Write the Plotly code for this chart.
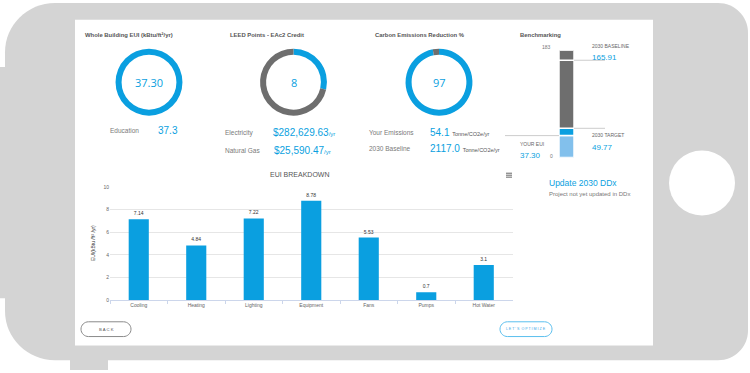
import plotly.graph_objects as go

W, H = 750, 373

# ---------------- data ----------------
eui_value = 37.30
eui_label = "37.30"
building_type = "Education"
building_eui = "37.3"

leed_points = 8
leed_remaining = 20

carbon_reduction = 97
carbon_rest = 3
your_emissions = "54.1"
baseline_emissions = "2117.0"

electricity_cost = "$282,629.63"
gas_cost = "$25,590.47"

bench_max = 183
bench_baseline = 165.91
bench_target = 49.77
bench_your = 37.30

categories = ["Cooling", "Heating", "Lighting", "Equipment", "Fans", "Pumps", "Hot Water"]
eui_breakdown = [7.14, 4.84, 7.22, 8.78, 5.53, 0.7, 3.1]
y_ticks = [0, 2, 4, 6, 8, 10]

BLUE = "#0a9fe0"
LBLUE = "#82c0ec"
DGRAY = "#6e6e6e"
FRAME = "#d4d4d4"
TXT = "#555555"
LBL = "#7a7a7a"
FONT = "Liberation Sans, Arial, sans-serif"


def px(x):
    return x / W


def py(y):
    return 1 - y / H


K = 0.5523


def rrect(x0, y0, x1, y1, rtl, rtr, rbr, rbl):
    def P(x, y):
        return f"{px(x):.5f},{py(y):.5f}"

    d = f"M {P(x0 + rtl, y0)} L {P(x1 - rtr, y0)} "
    d += f"C {P(x1 - rtr + K * rtr, y0)} {P(x1, y0 + rtr - K * rtr)} {P(x1, y0 + rtr)} "
    d += f"L {P(x1, y1 - rbr)} "
    d += f"C {P(x1, y1 - rbr + K * rbr)} {P(x1 - rbr + K * rbr, y1)} {P(x1 - rbr, y1)} "
    d += f"L {P(x0 + rbl, y1)} "
    d += f"C {P(x0 + rbl - K * rbl, y1)} {P(x0, y1 - rbl + K * rbl)} {P(x0, y1 - rbl)} "
    d += f"L {P(x0, y0 + rtl)} "
    d += f"C {P(x0, y0 + rtl - K * rtl)} {P(x0 + rtl - K * rtl, y0)} {P(x0 + rtl, y0)} Z"
    return d


shapes = []
# phone frame
shapes.append(dict(type="path", path=rrect(5, 0, 748, 363, 50, 30, 30, 50),
                   xref="paper", yref="paper", fillcolor=FRAME, line=dict(width=0), layer="below"))
shapes.append(dict(type="rect", xref="paper", yref="paper", x0=px(0), x1=px(8), y0=py(65), y1=py(300),
                   fillcolor=FRAME, line=dict(width=0), layer="below"))
shapes.append(dict(type="rect", xref="paper", yref="paper", x0=px(70), x1=px(108), y0=py(350), y1=py(373),
                   fillcolor=FRAME, line=dict(width=0), layer="below"))
# home button
shapes.append(dict(type="circle", xref="paper", yref="paper", x0=px(669), x1=px(735), y0=py(150), y1=py(216),
                   fillcolor="white", line=dict(width=0), layer="below"))
# screen
shapes.append(dict(type="rect", xref="paper", yref="paper", x0=px(75), x1=px(653), y0=py(348), y1=py(17),
                   fillcolor="white", line=dict(width=0), layer="below"))
# buttons
shapes.append(dict(type="path", path=rrect(81, 324, 131, 339, 7.5, 7.5, 7.5, 7.5), xref="paper", yref="paper",
                   fillcolor="white", line=dict(width=1, color="#8a8a8a")))
shapes.append(dict(type="path", path=rrect(500, 324, 552, 339, 7.5, 7.5, 7.5, 7.5), xref="paper", yref="paper",
                   fillcolor="white", line=dict(width=1, color="#5bbfee")))
# benchmark guide lines
shapes.append(dict(type="line", xref="paper", yref="y2", x0=px(574), x1=px(605), y0=bench_baseline, y1=bench_baseline,
                   line=dict(width=1, color="#cccccc")))
shapes.append(dict(type="line", xref="paper", yref="y2", x0=px(574), x1=px(605), y0=bench_target, y1=bench_target,
                   line=dict(width=1, color="#cccccc")))
shapes.append(dict(type="line", xref="paper", yref="y2", x0=px(505), x1=px(559), y0=bench_your, y1=bench_your,
                   line=dict(width=1, color="#cccccc")))
# hamburger menu
for yy in (173, 175, 177):
    shapes.append(dict(type="line", xref="paper", yref="paper", x0=px(506), x1=px(512), y0=py(yy), y1=py(yy),
                       line=dict(width=1, color="#666666")))

fig = go.Figure()


def donut(values, colors, cx, cy, r=34):
    fig.add_trace(go.Pie(values=values, marker=dict(colors=colors, line=dict(width=0)),
                         hole=0.82, sort=False, direction="clockwise", rotation=0,
                         textinfo="none", hoverinfo="skip", showlegend=False,
                         domain=dict(x=[px(cx - r), px(cx + r)], y=[py(cy + r), py(cy - r)])))


donut([eui_value], [BLUE], 149, 80.5)
donut([leed_points, leed_remaining], [BLUE, DGRAY], 293.5, 80.5)
donut([carbon_reduction, carbon_rest], [BLUE, DGRAY], 439, 80.5)

# EUI breakdown bar chart
fig.add_trace(go.Bar(x=categories, y=eui_breakdown, marker=dict(color=BLUE, line=dict(width=0)),
                     text=[f"{v}" for v in eui_breakdown], textposition="outside",
                     textfont=dict(size=5, color="#333333", family=FONT),
                     cliponaxis=False, width=0.35, hoverinfo="skip", showlegend=False,
                     xaxis="x", yaxis="y"))

# Benchmark stacked bar
bench_bounds = [0, bench_your, bench_target, bench_baseline, bench_max]
bench_colors = [LBLUE, BLUE, DGRAY, DGRAY]
for i in range(4):
    fig.add_trace(go.Bar(x=[0], y=[bench_bounds[i + 1] - bench_bounds[i]], base=[bench_bounds[i]],
                         marker=dict(color=bench_colors[i], line=dict(width=1.5, color="white")),
                         width=1, hoverinfo="skip", showlegend=False, xaxis="x2", yaxis="y2"))

ann = []


def T(x, y, text, size, color=TXT, anchor="left", bold=False, family=FONT, yanchor="middle", **kw):
    if bold:
        text = f"<b>{text}</b>"
    ann.append(dict(x=px(x), y=py(y), xref="paper", yref="paper", text=text, showarrow=False,
                    xanchor=anchor, yanchor=yanchor, font=dict(size=size, color=color, family=family), **kw))


# titles
T(83, 33, "Whole Building EUI (kBtu/ft²/yr)", 5.9, "#555555", bold=True)
T(228, 33, "LEED Points - EAc2 Credit", 5.9, "#555555", bold=True)
T(373, 33, "Carbon Emissions Reduction %", 5.9, "#555555", bold=True)
T(518, 33, "Benchmarking", 5.9, "#555555", bold=True)

# donut centres
T(149, 81, eui_label, 11, BLUE, anchor="center", family="Open Sans, sans-serif")
T(293.5, 81, str(leed_points), 11, BLUE, anchor="center", family="Open Sans, sans-serif")
T(439, 81, str(carbon_reduction), 11, BLUE, anchor="center", family="Open Sans, sans-serif")

# donut details
T(108, 130, building_type, 6.5, LBL)
T(156, 130, building_eui, 10, BLUE)
T(223, 132, "Electricity", 6.5, LBL)
T(271, 132, f"{electricity_cost}<span style='font-size:6px'>/yr</span>", 10, BLUE)
T(223, 150, "Natural Gas", 6.5, LBL)
T(272, 150, f"{gas_cost}<span style='font-size:6px'>/yr</span>", 10, BLUE)
T(367, 132, "Your Emissions", 6.5, LBL)
T(428, 132, f"{your_emissions} <span style='font-size:5.5px;color:#555555'>Tonne/CO2e/yr</span>", 10, BLUE)
T(367, 148, "2030 Baseline", 6.5, LBL)
T(428, 148, f"{baseline_emissions} <span style='font-size:5.5px;color:#555555'>Tonne/CO2e/yr</span>", 10, BLUE)

# benchmark labels
T(553, 45, str(bench_max), 5, "#777777", anchor="right")
T(555, 156, "0", 5, "#777777", anchor="right")
T(590, 44, "2030 BASELINE", 5, "#666666")
T(590, 55, f"{bench_baseline:.2f}", 8, BLUE)
T(590, 134, "2030 TARGET", 5, "#666666")
T(590, 147, f"{bench_target:.2f}", 8, BLUE)
T(518, 143, "YOUR EUI", 5, "#666666")
T(518, 155, f"{bench_your:.2f}", 8, BLUE)

# DDx
T(547, 183, "Update 2030 DDx", 8.5, BLUE)
T(547, 194, "Project not yet updated in DDx", 6, "#777777")

# bar chart title & y title
T(300, 174, "EUI BREAKDOWN", 7, "#555555", anchor="center")
ann.append(dict(x=px(93), y=py(244), xref="paper", yref="paper", text="EUI(kBtu /ft² /yr)", showarrow=False,
                textangle=-90, xanchor="center", yanchor="middle",
                font=dict(size=5, color="#333333", family=FONT)))

# buttons text
T(106, 331.5, "B A C K", 4.2, "#555555", anchor="center")
T(526, 331.5, "L E T ' S  O P T I M I Z E", 3.6, "#3aa8e8", anchor="center")

fig.update_layout(
    width=W, height=H, margin=dict(l=0, r=0, t=0, b=0),
    paper_bgcolor="white", plot_bgcolor="rgba(0,0,0,0)",
    barmode="overlay", showlegend=False,
    shapes=shapes, annotations=ann,
    font=dict(family=FONT),
    xaxis=dict(domain=[px(110), px(512.5)], type="category", categoryorder="array", categoryarray=categories,
               showline=True, linecolor="#ccd6eb", linewidth=1, ticks="outside", tickson="boundaries",
               ticklen=3, tickcolor="#ccd6eb", showgrid=False, zeroline=False,
               tickfont=dict(size=5, color="#666666", family=FONT), fixedrange=True),
    yaxis=dict(domain=[py(302), py(187)], range=[0, 10], tickvals=y_ticks, showgrid=True, gridcolor="#e6e6e6",
               gridwidth=1, zeroline=False, showline=False, ticks="",
               tickfont=dict(size=5, color="#666666", family=FONT), fixedrange=True),
    xaxis2=dict(domain=[px(559), px(574)], range=[-0.5, 0.5], visible=False, anchor="y2", fixedrange=True),
    yaxis2=dict(domain=[py(157), py(48)], range=[0, bench_max], visible=False, anchor="x2", fixedrange=True),
)

fig.write_html("out.html", config=dict(displayModeBar=False),
               post_script="document.documentElement.style.margin='0';document.body.style.margin='0';"
                           "document.body.style.overflow='hidden';")
